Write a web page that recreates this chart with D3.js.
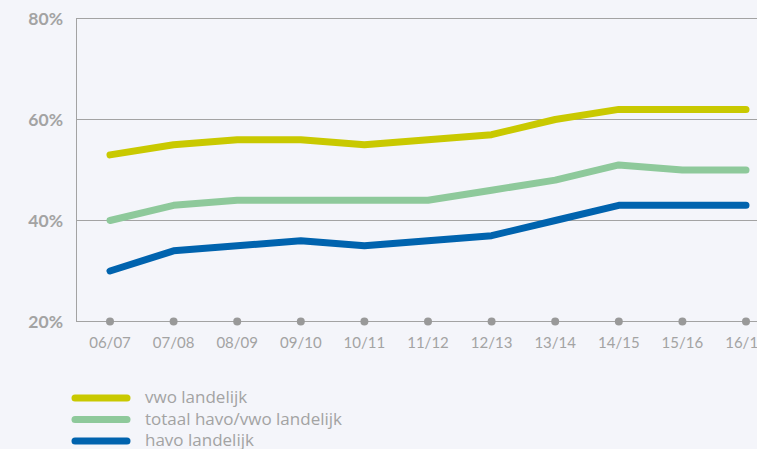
<!DOCTYPE html>
<html>
<head>
<meta charset="utf-8">
<script src="https://cdn.jsdelivr.net/npm/d3@7"></script>
<style>
  html, body { margin: 0; padding: 0; background: #f4f5fa; overflow: hidden; }
  svg { display: block; }
</style>
</head>
<body>
<svg id="chart" width="757" height="449"></svg>
<script>
// schooljaren
var years = ['06/07', '07/08', '08/09', '09/10', '10/11', '11/12', '12/13', '13/14', '14/15', '15/16', '16/17'];

// percentages per serie
var vwo = [53, 55, 56, 56, 55, 56, 57, 60, 62, 62, 62];
var totaal = [40, 43, 44, 44, 44, 44, 46, 48, 51, 50, 50];
var havo = [30, 34, 35, 36, 35, 36, 37, 40, 43, 43, 43];

var y_ticks = [20, 40, 60, 80];

var series = [
    { name: 'vwo landelijk', values: vwo, color: '#c9c900' },
    { name: 'totaal havo/vwo landelijk', values: totaal, color: '#8ec99b' },
    { name: 'havo landelijk', values: havo, color: '#0063ae' },
];

var svg = d3.select('#chart');
var grey = '#a3a3a3';
var font = 'Lato, "Open Sans", sans-serif';
var legend_font = '"Open Sans", Lato, sans-serif';

var m_left = 76, m_right = 757, m_top = 18.5, m_bottom = 321.5;

var x = d3.scalePoint().domain(years).range([110, 746]);
var y = d3.scaleLinear().domain([20, 80]).range([m_bottom, m_top]);

// gridlines
svg.append('g')
    .selectAll('line')
    .data(y_ticks)
    .join('line')
    .attr('x1', m_left).attr('x2', m_right)
    .attr('y1', d => Math.floor(y(d)) + 0.5)
    .attr('y2', d => Math.floor(y(d)) + 0.5)
    .attr('stroke', grey)
    .attr('stroke-width', 1);

// y axis line
svg.append('line')
    .attr('x1', m_left + 0.5).attr('x2', m_left + 0.5)
    .attr('y1', y(80)).attr('y2', y(20))
    .attr('stroke', grey);

// y labels
svg.append('g')
    .attr('font-family', font)
    .attr('font-size', 17.5)
    .attr('font-weight', 'bold')
    .attr('fill', grey)
    .attr('text-anchor', 'end')
    .selectAll('text')
    .data(y_ticks)
    .join('text')
    .attr('x', 63)
    .attr('y', d => y(d) + 6)
    .text(d => d + '%');

// x dots and labels
svg.append('g')
    .selectAll('circle')
    .data(years)
    .join('circle')
    .attr('cx', d => x(d))
    .attr('cy', m_bottom)
    .attr('r', 4)
    .attr('fill', '#999999');

svg.append('g')
    .attr('font-family', font)
    .attr('font-size', 15)
    .attr('fill', grey)
    .attr('text-anchor', 'middle')
    .selectAll('text')
    .data(years)
    .join('text')
    .attr('x', d => x(d))
    .attr('y', 348)
    .text(d => d);

// lines
var line = d3.line()
    .x((d, i) => x(years[i]))
    .y(d => y(d));

svg.append('g')
    .selectAll('path')
    .data(series)
    .join('path')
    .attr('d', d => line(d.values))
    .attr('fill', 'none')
    .attr('stroke', d => d.color)
    .attr('stroke-width', 7)
    .attr('stroke-linecap', 'round')
    .attr('stroke-linejoin', 'round');

// legend
var legend = svg.append('g')
    .selectAll('g')
    .data(series)
    .join('g')
    .attr('transform', (d, i) => `translate(0, ${398 + i * 21.5})`);

legend.append('line')
    .attr('x1', 75).attr('x2', 127)
    .attr('y1', 0).attr('y2', 0)
    .attr('stroke', d => d.color)
    .attr('stroke-width', 7)
    .attr('stroke-linecap', 'round');

legend.append('text')
    .attr('x', 145)
    .attr('y', 5)
    .attr('font-family', legend_font)
    .attr('font-size', 17)
    .attr('fill', grey)
    .text(d => d.name);
</script>
</body>
</html>
